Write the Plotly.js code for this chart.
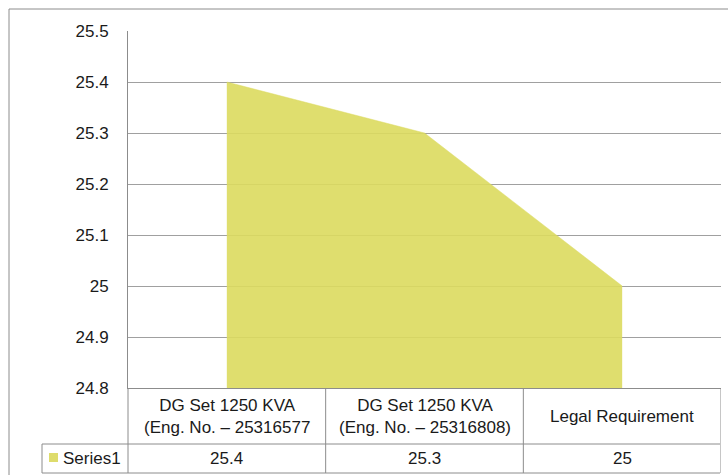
<!DOCTYPE html>
<html>
<head>
<meta charset="utf-8">
<script src="https://cdn.plot.ly/plotly-3.0.1.min.js"></script>
<style>html,body{margin:0;padding:0;background:#fff;}#chart{width:728px;height:475px;}</style>
</head>
<body>
<div id="chart"></div>
<script>
var categories = ["DG Set 1250 KVA<br>(Eng. No. \u2013 25316577", "DG Set 1250 KVA<br>(Eng. No. \u2013 25316808)", "Legal Requirement"];
var seriesName = "Series1";
var values = [25.4, 25.3, 25];
var valueLabels = ["25.4", "25.3", "25"];
var yTicks = [24.8, 24.9, 25, 25.1, 25.2, 25.3, 25.4, 25.5];
var yTickLabels = ["24.8", "24.9", "25", "25.1", "25.2", "25.3", "25.4", "25.5"];

var W = 728, H = 475, L = 128, R = 7, T = 31, B = 87;
var pw = W - L - R, ph = H - T - B;
function px(x) { return (x - L) / pw; }
function py(y) { return (H - B - y) / ph; }

var fontFam = "Liberation Sans, Arial, sans-serif";
var fs = 17;
var txtCol = "#1a1a1a";
var lineCol = "#8c8c8c";
var fillCol = "rgba(220,218,94,0.9)";

var idx = categories.map(function (c, i) { return i; });

var trace = {
  x: idx, y: values, type: "scatter", mode: "lines",
  fill: "tozeroy", fillcolor: fillCol,
  line: { color: fillCol, width: 0.5 }, hoverinfo: "none", showlegend: false
};

var shapes = [];
function line(x0, y0, x1, y1, xref) {
  shapes.push({ type: "line", xref: xref || "paper", yref: "paper", x0: x0, y0: y0, x1: x1, y1: y1,
    line: { color: lineCol, width: 1 } });
}
// outer chart border (cropped)
line(px(9), py(9), px(9), py(476));
line(px(9), py(9), px(729), py(9));
// data table grid
line(px(42), py(444), px(720), py(444));
line(px(42), py(473), px(720), py(473));
line(px(42), py(444), px(42), py(473));
line(px(128), py(388), px(128), py(473));
for (var k = 0; k < categories.length; k++) {
  line(k + 0.5, py(388), k + 0.5, py(473), "x");
}
// legend key
shapes.push({ type: "rect", xref: "paper", yref: "paper", x0: px(49), x1: px(58), y0: py(462), y1: py(453),
  line: { width: 0 }, fillcolor: "#dedc6c" });

var annotations = [];
categories.forEach(function (c, i) {
  annotations.push({ x: i, y: py(416.5), xref: "x", yref: "paper", text: c, showarrow: false,
    xanchor: "center", yanchor: "middle", font: { family: fontFam, size: fs, color: txtCol } });
  annotations.push({ x: i, y: py(458.5), xref: "x", yref: "paper", text: valueLabels[i], showarrow: false,
    xanchor: "center", yanchor: "middle", font: { family: fontFam, size: fs, color: txtCol } });
});
annotations.push({ x: px(61), y: py(458.5), xref: "paper", yref: "paper", text: seriesName, showarrow: false,
  xanchor: "left", yanchor: "middle", font: { family: fontFam, size: fs, color: txtCol } });

var layout = {
  width: W, height: H,
  margin: { l: L, r: R, t: T, b: B, pad: 0 },
  paper_bgcolor: "#ffffff", plot_bgcolor: "#ffffff",
  showlegend: false,
  font: { family: fontFam, size: fs, color: txtCol },
  xaxis: {
    type: "linear", range: [-0.5, categories.length - 0.5],
    showgrid: false, zeroline: false, showticklabels: false, ticks: "",
    showline: true, linecolor: lineCol, linewidth: 1, fixedrange: true
  },
  yaxis: {
    range: [24.8, 25.5], tickmode: "array", tickvals: yTicks, ticktext: yTickLabels,
    showgrid: true, gridcolor: "#a0a0a0", gridwidth: 1, zeroline: false,
    showline: true, linecolor: lineCol, linewidth: 1, ticks: "",
    ticklabelstandoff: 15, tickfont: { family: fontFam, size: fs, color: txtCol }, fixedrange: true
  },
  shapes: shapes,
  annotations: annotations
};

Plotly.newPlot("chart", [trace], layout, { displayModeBar: false, staticPlot: true });
</script>
</body>
</html>
